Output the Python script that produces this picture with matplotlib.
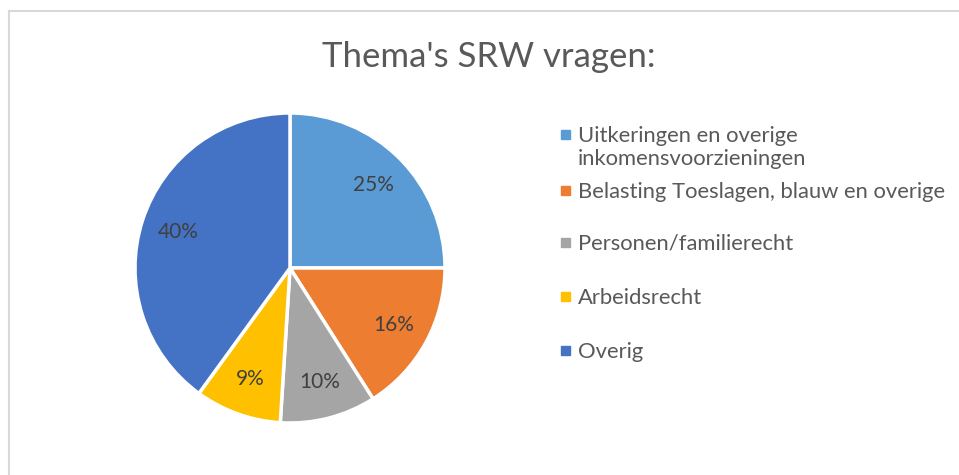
import matplotlib.pyplot as plt
from matplotlib.patches import Rectangle
from matplotlib.lines import Line2D

plt.rcParams['font.family'] = ['Lato', 'DejaVu Sans']

categories = [
    "Uitkeringen en overige\ninkomensvoorzieningen",
    "Belasting Toeslagen, blauw en overige",
    "Personen/familierecht",
    "Arbeidsrecht",
    "Overig",
]
values = [25, 16, 10, 9, 40]
colors = ["#5B9BD5", "#ED7D31", "#A5A5A5", "#FFC000", "#4472C4"]

W, H = 959, 475
fig = plt.figure(figsize=(W / 100, H / 100), dpi=100)

# chart frame (only top and left edge visible)
fig.add_artist(Line2D([8.5 / W, 8.5 / W], [0, 1 - 10.5 / H], color="#D9D9D9", lw=1.5))
fig.add_artist(Line2D([8.5 / W, 1], [1 - 10.5 / H, 1 - 10.5 / H], color="#D9D9D9", lw=1.5))

fig.text(489 / W, 1 - 57 / H, "Thema's SRW vragen:", ha="center", va="center",
         fontsize=25, color="#595959")

cx, cy, r = 290, 268, 155
ax = fig.add_axes([(cx - r) / W, (H - cy - r) / H, 2 * r / W, 2 * r / H])
wedges, texts, autotexts = ax.pie(
    values, colors=colors, startangle=90, counterclock=False,
    autopct="%1.0f%%", pctdistance=0.76,
    wedgeprops=dict(edgecolor="white", linewidth=2.5),
    textprops=dict(fontsize=15, color="#404040"),
)
ax.set_xlim(-1, 1)
ax.set_ylim(-1, 1)
ax.set_aspect("equal")

# legend drawn by hand so the two-line entry sits like in the original
legend_y = [135, 191, 243, 297, 351]
for lbl, col, y in zip(categories, colors, legend_y):
    fig.add_artist(Rectangle((561 / W, 1 - (y + 4) / H), 9 / W, 9 / H,
                             transform=fig.transFigure, color=col))
    fig.text(578 / W, 1 - (y - 9) / H, lbl, ha="left", va="top",
             fontsize=15.8, color="#595959", linespacing=1.2)

fig.savefig("out.png", dpi=100)
